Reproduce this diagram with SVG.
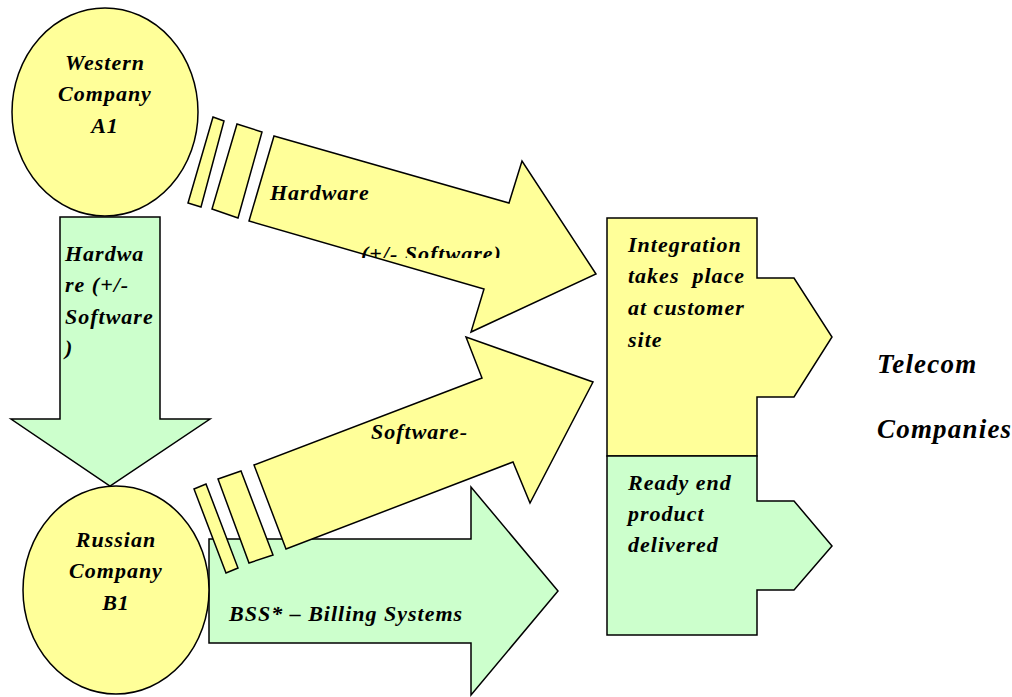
<svg xmlns="http://www.w3.org/2000/svg" width="1012" height="697" viewBox="0 0 1012 697">
<style>
.y{fill:#FFFF99;stroke:#000;stroke-width:1.5;stroke-linejoin:miter}
.g{fill:#CCFFCC;stroke:#000;stroke-width:1.5;stroke-linejoin:miter}
text{font-family:"Liberation Serif","Times New Roman",serif;font-weight:bold;font-style:italic;font-size:22px;letter-spacing:1px;fill:#000}
.big{font-size:27px;letter-spacing:1.2px}
.c{text-anchor:middle}
</style>
<defs>
<clipPath id="clipSw"><rect x="300" y="200" width="300" height="58"/></clipPath>
</defs>
<rect width="1012" height="697" fill="#fff"/>
<g id="connectors">
<g id="arrow-down">
<polygon class="g" points="60,217 160,217 160,419 210,419 110,486 11,419 60,419"/>
<text x="65" y="261">Hardwa</text>
<text x="65" y="292">re (+/-</text>
<text x="65" y="324">Software</text>
<text x="65" y="355">)</text>
</g>
<g id="arrow-bss">
<polygon class="g" points="209,539 471,539 471,487 558,591 471,695 471,643 209,643"/>
<text x="229" y="621">BSS* – Billing Systems</text>
</g>
<g id="arrow-hardware">
<polygon class="y" points="213,117 224,121 201,207 188,203"/>
<polygon class="y" points="237,124 262,132 238,218 212,209"/>
<polygon class="y" points="274,136 509,203 522,161 596,274 471,332 484,289 249,221"/>
<text x="270" y="200">Hardware</text>
<text x="361" y="261" clip-path="url(#clipSw)">(+/- Software)</text>
</g>
<g id="arrow-software">
<polygon class="y" points="194,489 206,484 238,568 226,573"/>
<polygon class="y" points="218,479 241,471 273,555 249,563"/>
<polygon class="y" points="254,465 482,378 466,337 593,382 530,503 513,462 286,549"/>
<text x="371" y="439">Software-</text>
</g>
</g>
<g id="western">
<ellipse class="y" cx="105" cy="112" rx="93" ry="104"/>
<text class="c" x="105" y="70">Western</text>
<text class="c" x="105" y="101">Company</text>
<text class="c" x="105" y="133">A1</text>
</g>
<g id="russian">
<ellipse class="y" cx="116" cy="590" rx="93" ry="104"/>
<text class="c" x="116" y="547">Russian</text>
<text class="c" x="116" y="578">Company</text>
<text class="c" x="116" y="610">B1</text>
</g>
<g id="integration">
<polygon class="y" points="607,218 757,218 757,278 794,278 832,337 794,397 757,397 757,456 607,456"/>
<text x="628" y="252">Integration</text>
<text x="628" y="283" xml:space="preserve">takes  place</text>
<text x="628" y="315">at customer</text>
<text x="628" y="347">site</text>
</g>
<g id="ready">
<polygon class="g" points="607,456 757,456 757,501 794,501 832,546 794,590 757,590 757,635 607,635"/>
<text x="628" y="490">Ready end</text>
<text x="628" y="521">product</text>
<text x="628" y="552">delivered</text>
</g>
<g id="telecom">
<text class="big" x="877" y="373">Telecom</text>
<text class="big" x="877" y="438">Companies</text>
</g>
</svg>
